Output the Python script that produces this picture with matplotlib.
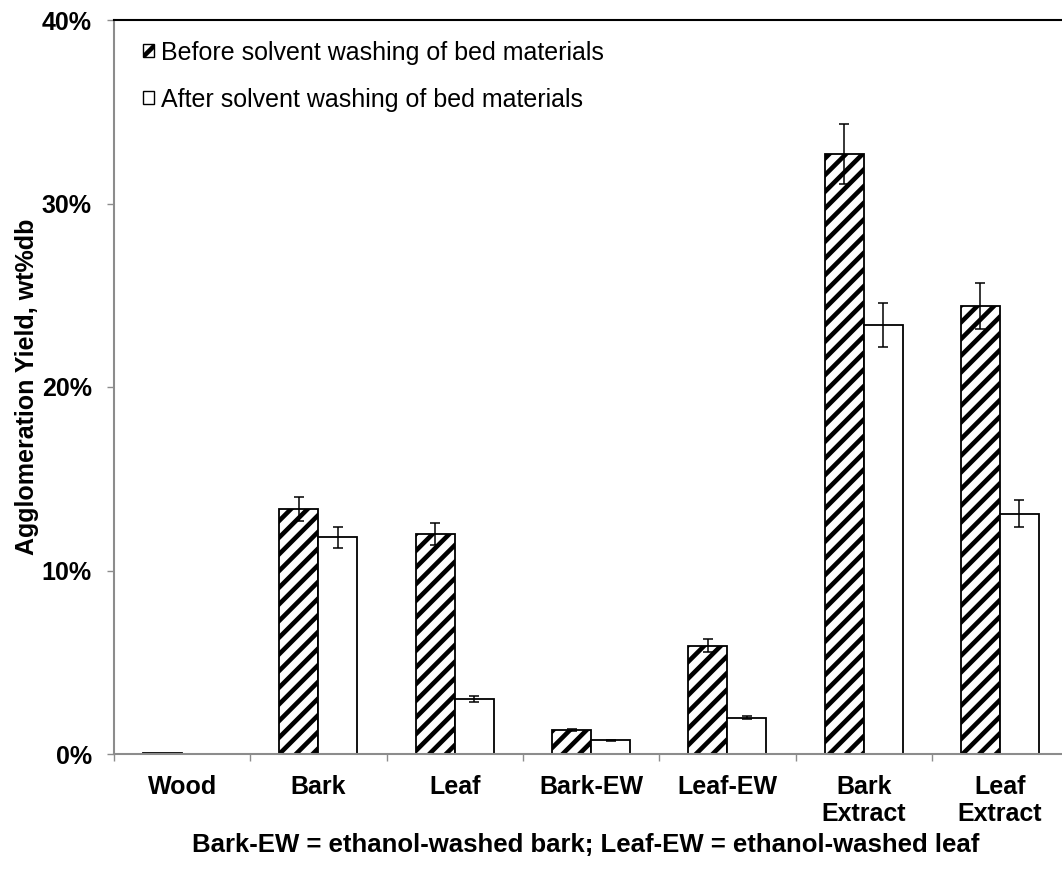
import matplotlib
matplotlib.use("Agg")
import matplotlib.pyplot as plt
import numpy as np
from matplotlib.patches import Patch

categories = ["Wood", "Bark", "Leaf", "Bark-EW", "Leaf-EW", "Bark\nExtract", "Leaf\nExtract"]
before = [0.05, 13.35, 12.0, 1.31, 5.9, 32.7, 24.4]
before_err = [0.0, 0.67, 0.6, 0.03, 0.35, 1.63, 1.25]
after = [0.0, 11.8, 2.98, 0.76, 1.98, 23.4, 13.1]
after_err = [0.0, 0.58, 0.16, 0.03, 0.08, 1.2, 0.72]
yticks = [0, 10, 20, 30, 40]
ytick_labels = ["0%", "10%", "20%", "30%", "40%"]
legend_labels = ["Before solvent washing of bed materials", "After solvent washing of bed materials"]
ylabel = "Agglomeration Yield, wt%db"
note = "Bark-EW = ethanol-washed bark; Leaf-EW = ethanol-washed leaf"

plt.rcParams['font.family'] = ['Liberation Sans', 'DejaVu Sans']
plt.rcParams['hatch.linewidth'] = 3.3

FS = 18
W, H = 1062, 885
fig = plt.figure(figsize=(W/100, H/100), dpi=100)
left = 114 / W
bottom = 1 - 754 / H
width = 7 * 136.3 / W
height = (754 - 20) / H
ax = fig.add_axes([left, bottom, width, height])

x = np.arange(len(categories))
bw = 0.286
gray = "#8c8c8c"

ax.bar(x - bw/2, before, bw, color="white", edgecolor="black", hatch="//", linewidth=1.3,
       label=legend_labels[0], zorder=2)
ax.bar(x + bw/2, after, bw, color="white", edgecolor="black", linewidth=1.3,
       label=legend_labels[1], zorder=2)

be = np.array(before_err)
ae = np.array(after_err)
mask_b = be > 0
mask_a = ae > 0
ax.errorbar((x - bw/2)[mask_b], np.array(before)[mask_b], yerr=be[mask_b], fmt='none',
            ecolor='black', elinewidth=1.1, capsize=3.3, capthick=1.1, zorder=3)
ax.errorbar((x + bw/2)[mask_a], np.array(after)[mask_a], yerr=ae[mask_a], fmt='none',
            ecolor='black', elinewidth=1.1, capsize=3.3, capthick=1.1, zorder=3)

ax.set_xlim(-0.5, len(categories) - 0.5)
ax.set_ylim(0, 40)
ax.set_yticks(yticks)
ax.set_yticklabels(ytick_labels, fontsize=FS, fontweight='bold')
ax.tick_params(axis='y', direction='out', length=5, width=1, color=gray, pad=11)

ax.set_xticks(np.arange(len(categories) + 1) - 0.5)
ax.set_xticklabels([])
ax.tick_params(axis='x', which='major', direction='out', length=5, width=1, color=gray)
ax.set_xticks(x, minor=True)
ax.set_xticklabels(categories, minor=True, fontsize=FS, fontweight='bold', linespacing=1.15)
ax.tick_params(axis='x', which='minor', length=0, pad=15)

for s in ['left', 'bottom']:
    ax.spines[s].set_color(gray)
    ax.spines[s].set_linewidth(1.5)
ax.spines['right'].set_visible(False)
ax.spines['top'].set_color('black')
ax.spines['top'].set_linewidth(1.5)

ax.set_ylabel(ylabel, fontsize=FS, fontweight='bold', labelpad=2)

handles = [Patch(facecolor='white', edgecolor='black', hatch='//', linewidth=1.0),
           Patch(facecolor='white', edgecolor='black', linewidth=1.0)]
ax.legend(handles, legend_labels, loc='upper left', bbox_to_anchor=(0.0304, 0.972),
          frameon=False, fontsize=FS, handlelength=0.42, handleheight=0.42,
          handletextpad=0.28, labelspacing=0.93, borderaxespad=0, borderpad=0)

fig.text(586 / W, 1 - 845 / H, note, ha='center', va='center', fontsize=18.5, fontweight='bold')

fig.savefig("out.png", dpi=100)
